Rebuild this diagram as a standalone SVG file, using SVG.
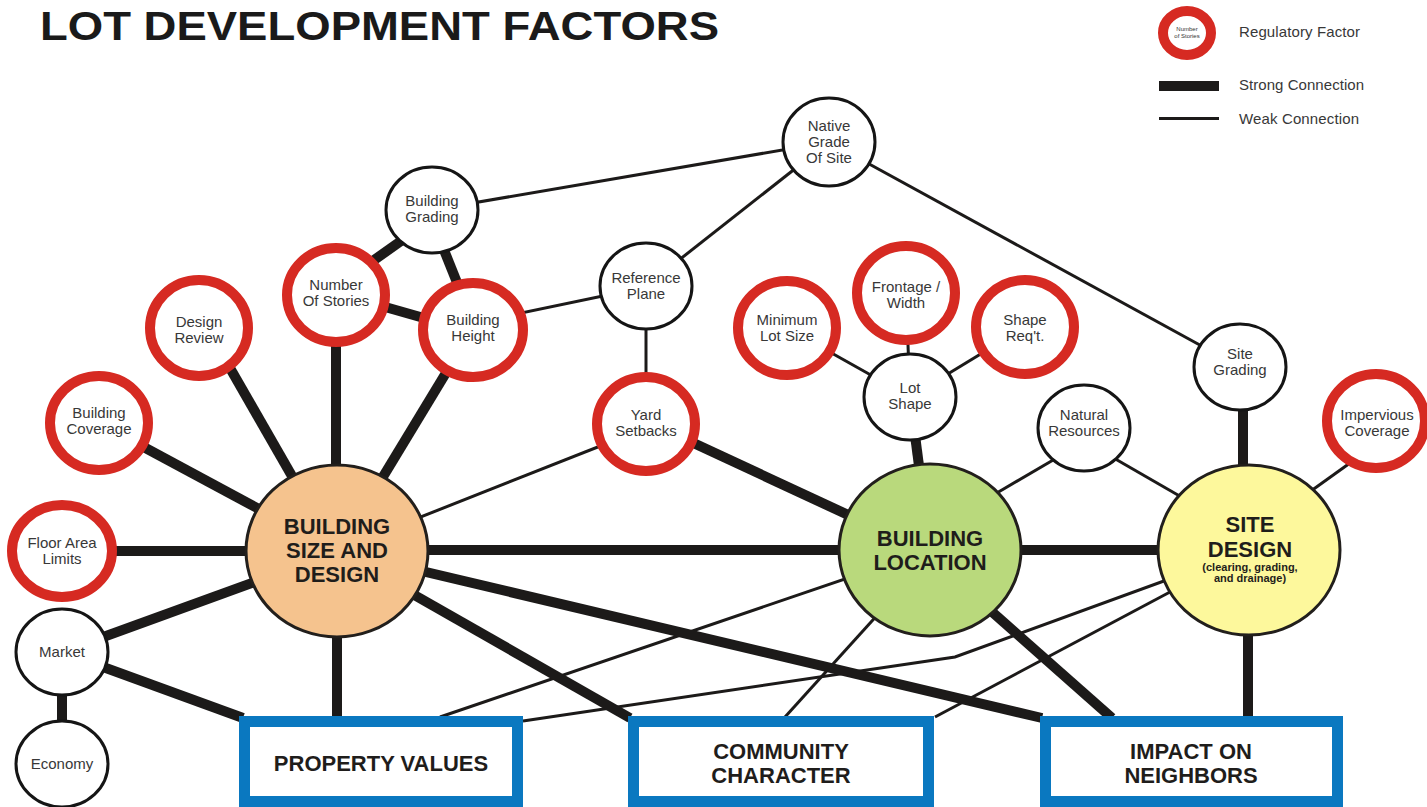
<svg xmlns="http://www.w3.org/2000/svg" width="1427" height="807" viewBox="0 0 1427 807">
  <style>
    .strong { stroke: #1c1a19; stroke-width: 10; fill: none; }
    .weak { stroke: #1c1a19; stroke-width: 3; fill: none; }
    .reg { fill: #ffffff; stroke: #d62a22; stroke-width: 10; }
    .plain { fill: #ffffff; stroke: #151515; stroke-width: 3; }
    .major { stroke: #221f1c; stroke-width: 3; }
    .outcome { fill: #ffffff; stroke: #0a78c0; stroke-width: 11; }
    .lbl { font-family: "Liberation Sans", Arial, sans-serif; font-size: 15px; fill: #383838; text-anchor: middle; }
    .big { font-family: "Liberation Sans", Arial, sans-serif; font-size: 22px; font-weight: bold; fill: #1f1d1b; text-anchor: middle; }
    .sub { font-family: "Liberation Sans", Arial, sans-serif; font-size: 11px; font-weight: bold; fill: #1f1d1b; text-anchor: middle; }
    .leg { font-family: "Liberation Sans", Arial, sans-serif; font-size: 15px; fill: #383838; }
  </style>

  <rect width="1427" height="807" fill="#ffffff"/>

  <!-- title -->
  <text x="40" y="40" font-family="'Liberation Sans', Arial, sans-serif" font-size="40" font-weight="bold" fill="#1a1a1a" textLength="679" lengthAdjust="spacingAndGlyphs">LOT DEVELOPMENT FACTORS</text>

  <!-- legend -->
  <g id="legend">
    <ellipse cx="1187" cy="33" rx="24" ry="22" class="reg" stroke-width="6"/>
    <text x="1187" y="31" font-family="'Liberation Sans', Arial, sans-serif" font-size="6" fill="#333" text-anchor="middle">Number</text>
    <text x="1187" y="38" font-family="'Liberation Sans', Arial, sans-serif" font-size="6" fill="#333" text-anchor="middle">of Stories</text>
    <text x="1239" y="37" class="leg" textLength="121">Regulatory Factor</text>
    <rect x="1159" y="81" width="60" height="10" fill="#1c1a19"/>
    <text x="1239" y="90" class="leg" textLength="125">Strong Connection</text>
    <rect x="1159" y="117" width="60" height="3" fill="#1c1a19"/>
    <text x="1239" y="124" class="leg" textLength="120">Weak Connection</text>
  </g>

  <!-- connectors -->
  <g id="connectors">
    <!-- weak links -->
    <line class="weak" x1="432" y1="210" x2="829" y2="142"/>
    <line class="weak" x1="829" y1="142" x2="646" y2="286"/>
    <line class="weak" x1="829" y1="142" x2="1240" y2="367"/>
    <line class="weak" x1="473" y1="323" x2="646" y2="287"/>
    <line class="weak" x1="646" y1="286" x2="646" y2="424"/>
    <line class="weak" x1="646" y1="428" x2="337" y2="550"/>
    <line class="weak" x1="787" y1="328" x2="910" y2="397"/>
    <line class="weak" x1="906" y1="293" x2="910" y2="397"/>
    <line class="weak" x1="1025" y1="327" x2="910" y2="397"/>
    <line class="weak" x1="1060" y1="456" x2="990" y2="497"/>
    <line class="weak" x1="1105" y1="453" x2="1190" y2="502"/>
    <line class="weak" x1="1350" y1="463" x2="1290" y2="506"/>
    <line class="weak" x1="930" y1="550" x2="440" y2="717"/>
    <line class="weak" x1="900" y1="590" x2="785" y2="717"/>
    <line class="weak" x1="1249" y1="550" x2="935" y2="717"/>
    <polyline class="weak" points="1249,550 955,657 523,721"/>

    <!-- strong links -->
    <line class="strong" x1="336" y1="287" x2="432" y2="219"/>
    <line class="strong" x1="428" y1="210" x2="476" y2="330"/>
    <line class="strong" x1="336" y1="293" x2="473" y2="332"/>
    <line class="strong" x1="99" y1="423" x2="337" y2="551"/>
    <line class="strong" x1="207" y1="328" x2="335" y2="551"/>
    <line class="strong" x1="336" y1="295" x2="336" y2="551"/>
    <line class="strong" x1="472" y1="330" x2="338" y2="551"/>
    <line class="strong" x1="62" y1="551" x2="337" y2="551"/>
    <line class="strong" x1="62" y1="652" x2="337" y2="552"/>
    <line class="strong" x1="62" y1="652" x2="243" y2="718"/>
    <line class="strong" x1="62" y1="652" x2="62" y2="764"/>
    <line class="strong" x1="337" y1="551" x2="337" y2="717"/>
    <line class="strong" x1="337" y1="551" x2="630" y2="718"/>
    <line class="strong" x1="337" y1="551" x2="1042" y2="718"/>
    <line class="strong" x1="337" y1="550" x2="1249" y2="550"/>
    <line class="strong" x1="646" y1="421" x2="930" y2="553"/>
    <line class="strong" x1="910" y1="397" x2="930" y2="550"/>
    <line class="strong" x1="1243" y1="367" x2="1243" y2="550"/>
    <line class="strong" x1="930" y1="557" x2="1112" y2="718"/>
    <line class="strong" x1="1248" y1="550" x2="1248" y2="717"/>
  </g>

  <!-- regulatory factors -->
  <g id="design-review">
    <ellipse cx="199" cy="328" rx="49" ry="48" class="reg"/>
    <text x="199" y="327" class="lbl">Design</text>
    <text x="199" y="343" class="lbl">Review</text>
  </g>
  <g id="building-coverage">
    <ellipse cx="99" cy="423" rx="49" ry="47" class="reg"/>
    <text x="99" y="418" class="lbl">Building</text>
    <text x="99" y="434" class="lbl">Coverage</text>
  </g>
  <g id="floor-area-limits">
    <ellipse cx="62" cy="551" rx="50" ry="46" class="reg"/>
    <text x="62" y="548" class="lbl">Floor Area</text>
    <text x="62" y="564" class="lbl">Limits</text>
  </g>
  <g id="number-of-stories">
    <ellipse cx="336" cy="295" rx="49" ry="47" class="reg"/>
    <text x="336" y="290" class="lbl">Number</text>
    <text x="336" y="306" class="lbl">Of Stories</text>
  </g>
  <g id="building-height">
    <ellipse cx="473" cy="330" rx="50" ry="47" class="reg"/>
    <text x="473" y="325" class="lbl">Building</text>
    <text x="473" y="341" class="lbl">Height</text>
  </g>
  <g id="yard-setbacks">
    <ellipse cx="646" cy="424" rx="49" ry="47" class="reg"/>
    <text x="646" y="420" class="lbl">Yard</text>
    <text x="646" y="436" class="lbl">Setbacks</text>
  </g>
  <g id="minimum-lot-size">
    <ellipse cx="787" cy="328" rx="49" ry="47" class="reg"/>
    <text x="787" y="325" class="lbl">Minimum</text>
    <text x="787" y="341" class="lbl">Lot Size</text>
  </g>
  <g id="frontage-width">
    <ellipse cx="906" cy="293" rx="49" ry="47" class="reg"/>
    <text x="906" y="292" class="lbl">Frontage /</text>
    <text x="906" y="308" class="lbl">Width</text>
  </g>
  <g id="shape-reqt">
    <ellipse cx="1025" cy="327" rx="49" ry="47" class="reg"/>
    <text x="1025" y="325" class="lbl">Shape</text>
    <text x="1025" y="341" class="lbl">Req't.</text>
  </g>
  <g id="impervious-coverage">
    <ellipse cx="1376" cy="421" rx="49" ry="47" class="reg"/>
    <text x="1377" y="420" class="lbl">Impervious</text>
    <text x="1377" y="436" class="lbl">Coverage</text>
  </g>

  <!-- other factors -->
  <g id="native-grade">
    <ellipse cx="829" cy="142" rx="46" ry="44" class="plain"/>
    <text x="829" y="131" class="lbl">Native</text>
    <text x="829" y="147" class="lbl">Grade</text>
    <text x="829" y="163" class="lbl">Of Site</text>
  </g>
  <g id="building-grading">
    <ellipse cx="432" cy="210" rx="46" ry="43" class="plain"/>
    <text x="432" y="206" class="lbl">Building</text>
    <text x="432" y="222" class="lbl">Grading</text>
  </g>
  <g id="reference-plane">
    <ellipse cx="646" cy="286" rx="46" ry="43" class="plain"/>
    <text x="646" y="283" class="lbl">Reference</text>
    <text x="646" y="299" class="lbl">Plane</text>
  </g>
  <g id="lot-shape">
    <ellipse cx="910" cy="397" rx="46" ry="43" class="plain"/>
    <text x="910" y="393" class="lbl">Lot</text>
    <text x="910" y="409" class="lbl">Shape</text>
  </g>
  <g id="natural-resources">
    <ellipse cx="1084" cy="428" rx="46" ry="43" class="plain"/>
    <text x="1084" y="420" class="lbl">Natural</text>
    <text x="1084" y="436" class="lbl">Resources</text>
  </g>
  <g id="site-grading">
    <ellipse cx="1240" cy="367" rx="46" ry="43" class="plain"/>
    <text x="1240" y="359" class="lbl">Site</text>
    <text x="1240" y="375" class="lbl">Grading</text>
  </g>
  <g id="market">
    <ellipse cx="62" cy="652" rx="46" ry="43" class="plain"/>
    <text x="62" y="657" class="lbl">Market</text>
  </g>
  <g id="economy">
    <ellipse cx="62" cy="764" rx="46" ry="43" class="plain"/>
    <text x="62" y="769" class="lbl">Economy</text>
  </g>

  <!-- main decisions -->
  <g id="building-size-and-design">
    <ellipse cx="337" cy="551" rx="91" ry="86" fill="#f5c38e" class="major"/>
    <text x="337" y="534" class="big">BUILDING</text>
    <text x="337" y="558" class="big">SIZE AND</text>
    <text x="337" y="582" class="big">DESIGN</text>
  </g>
  <g id="building-location">
    <ellipse cx="930" cy="550" rx="91" ry="86" fill="#b9d97c" class="major"/>
    <text x="930" y="546" class="big">BUILDING</text>
    <text x="930" y="570" class="big">LOCATION</text>
  </g>
  <g id="site-design">
    <ellipse cx="1249" cy="550" rx="91" ry="85" fill="#fdf89c" class="major"/>
    <text x="1250" y="532" class="big">SITE</text>
    <text x="1250" y="557" class="big">DESIGN</text>
    <text x="1250" y="571" class="sub">(clearing, grading,</text>
    <text x="1250" y="582" class="sub">and drainage)</text>
  </g>

  <!-- outcomes -->
  <g id="property-values">
    <rect x="244.5" y="721.5" width="273" height="80" class="outcome"/>
    <text x="381" y="771" class="big" font-size="21">PROPERTY VALUES</text>
  </g>
  <g id="community-character">
    <rect x="633.5" y="721.5" width="295" height="80" class="outcome"/>
    <text x="781" y="759" class="big" font-size="21">COMMUNITY</text>
    <text x="781" y="783" class="big" font-size="21">CHARACTER</text>
  </g>
  <g id="impact-on-neighbors">
    <rect x="1045.5" y="721.5" width="292" height="80" class="outcome"/>
    <text x="1191" y="759" class="big" font-size="21">IMPACT ON</text>
    <text x="1191" y="783" class="big" font-size="21">NEIGHBORS</text>
  </g>
</svg>
